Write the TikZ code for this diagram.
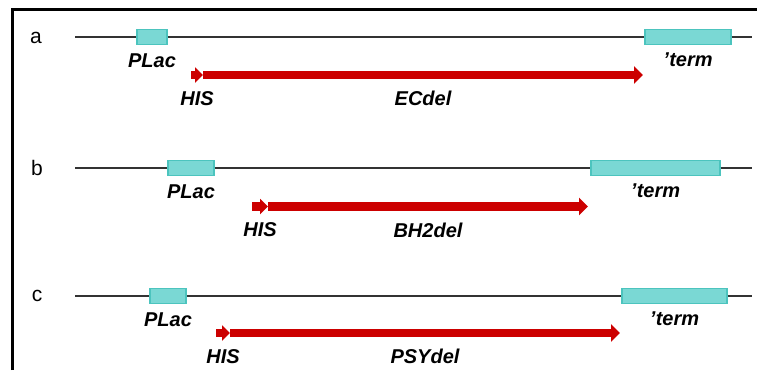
\documentclass[tikz,border=0pt]{standalone}
\usepackage{fontspec}
\setmainfont{Liberation Sans}
\usetikzlibrary{positioning,arrows.meta}
\definecolor{genecyan}{HTML}{7AD8D4}
\definecolor{geneedge}{HTML}{4CC4BE}
\definecolor{delred}{HTML}{CC0000}

\begin{document}
\begin{tikzpicture}[x=1pt, y=-1pt,
  backbone/.style = {draw=black!80, line width=2pt},
  gene/.style = {draw=geneedge, fill=genecyan, line width=1.2pt, minimum height=15pt, inner sep=0pt},
  lbl/.style = {inner sep=0pt, font=\fontsize{20}{24}\selectfont\bfseries\itshape},
  row/.style = {font=\fontsize{21}{25}\selectfont},
  hisarrow/.style = {draw=delred, line width=8.5pt, -{Triangle[length=8pt,width=15pt]}},
  delarrow/.style = {draw=delred, line width=8.5pt, -{Triangle[length=9pt,width=17pt]}}]
\useasboundingbox (0,0) rectangle (757,370);
\draw[line width=3pt] (12,370) -- (12,9.5) -- (757,9.5);

% construct a
\node[row] (rowa) at (36,38) {a};
\coordinate (la) at (75,37);
\coordinate (ra) at (752,37);
\node[gene, minimum width=30pt] (placa) at (152,37) {};
\node[gene, minimum width=86pt] (terma) at (688,37) {};
\draw[backbone] (la) -- (placa) -- (terma) -- (ra);
\node[lbl, below=8pt of placa] (placlbla) {PLac};
\node[lbl, below=7pt of terma] (termlbla) {\char39 term};
\coordinate (hisa) at (191,75);
\coordinate (dela) at (203,75);
\coordinate (enda) at (643,75);
\draw[hisarrow] (hisa) -- node[lbl, below=12pt] (hislbla) {HIS} (dela);
\draw[delarrow] (dela) -- node[lbl, below=12pt] (dellbla) {ECdel} (enda);

% construct b
\node[row] (rowb) at (37,168) {b};
\coordinate (lb) at (75,168);
\coordinate (rb) at (752,168);
\node[gene, minimum width=46pt] (placb) at (191,168) {};
\node[gene, minimum width=129pt] (termb) at (655.5,168) {};
\draw[backbone] (lb) -- (placb) -- (termb) -- (rb);
\node[lbl, below=8pt of placb] (placlblb) {PLac};
\node[lbl, below=7pt of termb] (termlblb) {\char39 term};
\coordinate (hisb) at (252,206.5);
\coordinate (delb) at (268,206.5);
\coordinate (endb) at (588,206.5);
\draw[hisarrow] (hisb) -- node[lbl, below=12pt] (hislblb) {HIS} (delb);
\draw[delarrow] (delb) -- node[lbl, below=12pt] (dellblb) {BH2del} (endb);

% construct c
\node[row] (rowc) at (37,296) {c};
\coordinate (lc) at (75,296);
\coordinate (rc) at (752,296);
\node[gene, minimum width=36pt] (placc) at (168,296) {};
\node[gene, minimum width=105pt] (termc) at (674.5,296) {};
\draw[backbone] (lc) -- (placc) -- (termc) -- (rc);
\node[lbl, below=8pt of placc] (placlblc) {PLac};
\node[lbl, below=7pt of termc] (termlblc) {\char39 term};
\coordinate (hisc) at (216,333);
\coordinate (delc) at (230,333);
\coordinate (endc) at (620,333);
\draw[hisarrow] (hisc) -- node[lbl, below=12pt] (hislblc) {HIS} (delc);
\draw[delarrow] (delc) -- node[lbl, below=12pt] (dellblc) {PSYdel} (endc);
\end{tikzpicture}
\end{document}
